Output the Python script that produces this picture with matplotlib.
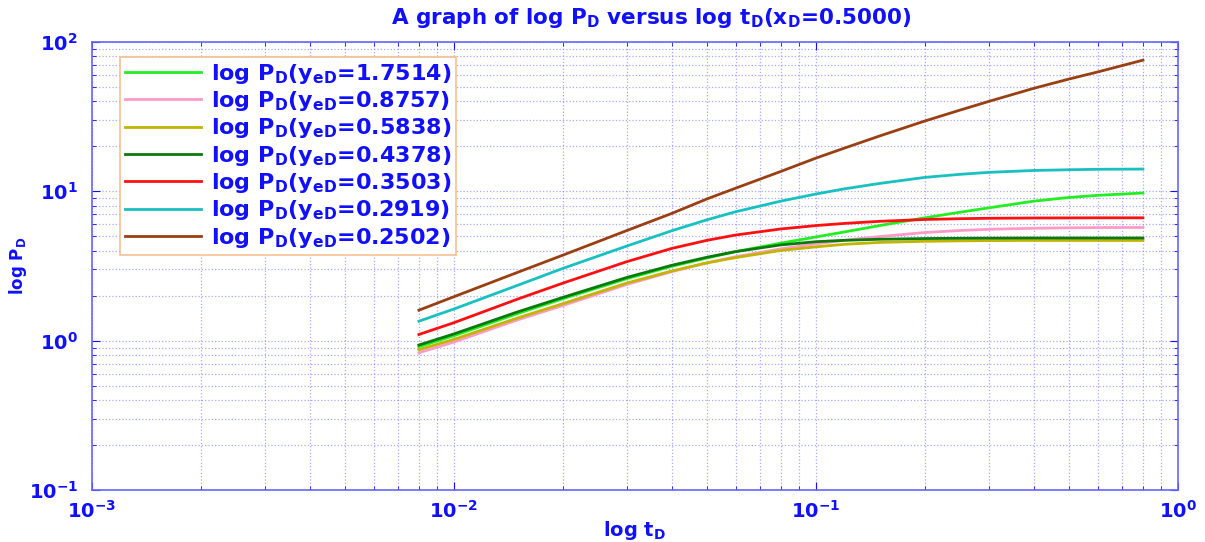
import matplotlib
import matplotlib.pyplot as plt

matplotlib.use('Agg')

plt.rcParams['font.family'] = ['DejaVu Sans']
plt.rcParams['font.weight'] = 'bold'
plt.rcParams['mathtext.default'] = 'regular'

BLUE = '#1010ff'

# dimensionless time
t_d = [0.008, 0.01, 0.015, 0.02, 0.03, 0.04, 0.05, 0.06, 0.08, 0.1,
       0.12, 0.15, 0.2, 0.25, 0.3, 0.4, 0.5, 0.6, 0.8]

# dimensionless pressure for each y_eD
p_17514 = [0.91, 1.08, 1.52, 1.91, 2.60, 3.15, 3.58, 3.95, 4.50, 4.95,
           5.35, 5.90, 6.65, 7.25, 7.75, 8.60, 9.10, 9.40, 9.75]
p_08757 = [0.83, 0.98, 1.38, 1.72, 2.38, 2.90, 3.32, 3.65, 4.12, 4.45,
           4.70, 4.98, 5.30, 5.47, 5.57, 5.66, 5.70, 5.72, 5.73]
p_05838 = [0.87, 1.02, 1.42, 1.77, 2.43, 2.93, 3.32, 3.60, 4.02, 4.25,
           4.42, 4.55, 4.63, 4.66, 4.68, 4.69, 4.69, 4.69, 4.69]
p_04378 = [0.935, 1.11, 1.56, 1.95, 2.65, 3.20, 3.62, 3.95, 4.38, 4.60,
           4.70, 4.78, 4.83, 4.85, 4.86, 4.87, 4.87, 4.87, 4.87]
p_03503 = [1.10, 1.32, 1.90, 2.43, 3.38, 4.15, 4.70, 5.10, 5.60, 5.90,
           6.10, 6.30, 6.48, 6.56, 6.60, 6.63, 6.64, 6.65, 6.65]
p_02919 = [1.35, 1.63, 2.35, 3.05, 4.30, 5.45, 6.45, 7.30, 8.60, 9.60,
           10.4, 11.3, 12.4, 13.0, 13.4, 13.8, 13.95, 14.05, 14.1]
p_02502 = [1.60, 1.97, 2.87, 3.74, 5.46, 7.12, 8.90, 10.5, 13.6, 16.7,
           19.5, 23.5, 29.6, 35.0, 40.0, 49.0, 56.5, 63.0, 75.6]

y_ed = ['1.7514', '0.8757', '0.5838', '0.4378', '0.3503', '0.2919', '0.2502']
series = [p_17514, p_08757, p_05838, p_04378, p_03503, p_02919, p_02502]
colors = ['#22ee22', '#ff99c8', '#c2b400', '#0a7a0a', '#ff1010', '#18c0c0', '#9a3f12']

fig = plt.figure(figsize=(12.05, 5.42), dpi=100)
ax = fig.add_axes([0.0763, 0.0959, 0.9013, 0.8266])

for y, p, c in zip(y_ed, series, colors):
    ax.loglog(t_d, p, color=c, lw=2,
              label=r'log P$_{D}$(y$_{eD}$=' + y + ')')

ax.set_xlim(1e-3, 1)
ax.set_ylim(1e-1, 1e2)

ax.grid(True, which='both', ls=':', lw=0.9, color='#7070ff', alpha=0.6)
ax.tick_params(which='both', direction='in', top=True, right=True,
               colors=BLUE, labelsize=14)
ax.tick_params(which='major', length=6)
ax.tick_params(which='minor', length=3)
ax.tick_params(axis='x', which='major', pad=7)
ax.tick_params(axis='y', which='major', pad=10)
for spine in ax.spines.values():
    spine.set_color('#6666ff')
    spine.set_linewidth(1.2)

ax.set_title(r'A graph of log P$_{D}$ versus log t$_{D}$(x$_{D}$=0.5000)',
             color=BLUE, fontsize=15.5, fontweight='bold', pad=13, x=0.515)
ax.set_xlabel(r'log t$_{D}$', color=BLUE, fontsize=14, fontweight='bold', labelpad=-2)
ax.set_ylabel(r'log P$_{D}$', color=BLUE, fontsize=12, fontweight='bold', labelpad=0)

leg = ax.legend(loc='upper left', bbox_to_anchor=(0.026, 0.967), borderaxespad=0,
                fontsize=16, handlelength=3.4, handletextpad=0.45, labelspacing=0.15,
                fancybox=False, framealpha=1, edgecolor='#f5c090', borderpad=0.22)
leg.get_frame().set_linewidth(1.2)
for text in leg.get_texts():
    text.set_color(BLUE)

plt.savefig('out.png', dpi=100)
plt.close()
